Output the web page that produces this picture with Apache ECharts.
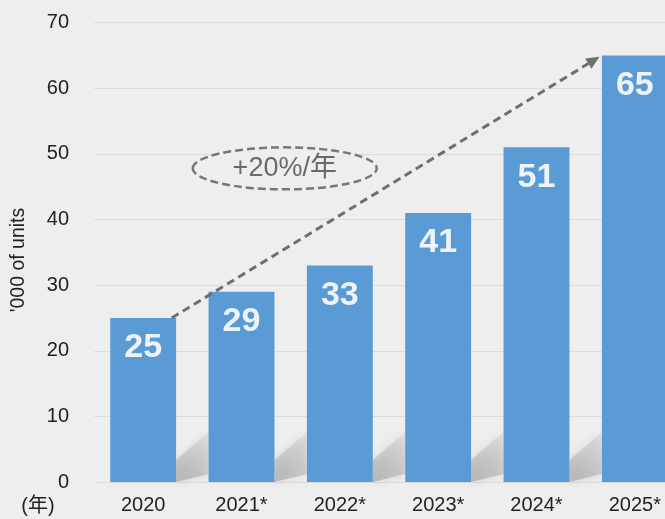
<!DOCTYPE html>
<html><head><meta charset="utf-8">
<script src="https://cdn.jsdelivr.net/npm/echarts@6/dist/echarts.min.js"></script>
<style>html,body{margin:0;padding:0;background:#eeeeee}#c{width:665px;height:519px}</style>
</head><body><div id="c"></div>
<script>
const categories = ['2020','2021*','2022*','2023*','2024*','2025*'];
const values = [25, 29, 33, 41, 51, 65];
const yTicks = [0,10,20,30,40,50,60,70];
const growthLabel = '+20%/年';
const yAxisName = "'000 of units";
const xUnit = '(年)';
// arrow annotation endpoints in data space: [category index (fractional), value]
const arrowStart = [0.29, 25];
const arrowEnd = [4.64, 64.8];
const ellipseCenter = [1.44, 47.8];

const chart = echarts.init(document.getElementById('c'), null, {renderer:'canvas'});
const font = 'Liberation Sans, Arial, sans-serif';
chart.setOption({
  backgroundColor: '#eeeeee',
  animation: false,
  grid: {left: 94, right: -19, top: 22.7, bottom: 37, outerBoundsMode: 'none', containLabel: false},
  xAxis: {
    type: 'category', data: categories,
    axisLine: {show: false}, axisTick: {show: false},
    axisLabel: {color: '#222', fontSize: 20, fontFamily: font, margin: 13}
  },
  yAxis: {
    type: 'value', min: yTicks[0], max: yTicks[yTicks.length-1], interval: 10,
    axisLine: {show: false}, axisTick: {show: false},
    axisLabel: {color: '#222', fontSize: 20, fontFamily: font, margin: 25},
    splitLine: {lineStyle: {color: '#dcdcdc', width: 1}}
  },
  series: [{
    type: 'bar', data: values, barWidth: '67%', z: 3,
    itemStyle: {color: '#5b9bd5'},
    label: {show: true, position: 'insideTop', distance: 13, color: '#eef3f9',
      fontSize: 34, fontWeight: 'bold', fontFamily: font}
  }]
});

const p0 = chart.convertToPixel({xAxisIndex:0, yAxisIndex:0}, [0, 0]);
const p1 = chart.convertToPixel({xAxisIndex:0, yAxisIndex:0}, [1, 0]);
const band = p1[0] - p0[0];
function toPx(p){ const y = chart.convertToPixel({yAxisIndex:0}, p[1]); return [p0[0] + p[0]*band, y]; }

const s = toPx(arrowStart), e = toPx(arrowEnd), c = toPx(ellipseCenter);
const ang = Math.atan2(e[1]-s[1], e[0]-s[0]);
const ah = 13, aw = 6;
const back = [e[0]-ah*Math.cos(ang), e[1]-ah*Math.sin(ang)];
const nx = -Math.sin(ang), ny = Math.cos(ang);

const graphics = [];
// bar shadows in gaps
const barW = band*0.67, gap = band - barW;
for (let i = 0; i < categories.length-1; i++) {
  const R = p0[0] + i*band + barW/2, L = R + gap, b = p0[1];
  graphics.push({type:'polygon', z: 1, silent: true,
    shape:{points:[[R,b],[R,b-22],[L,b-50],[L,b-8]]},
    style:{shadowBlur: 8, shadowColor:'rgba(160,160,160,0.6)',
      fill:{type:'linear',x:0,y:1,x2:1,y2:0,colorStops:[{offset:0,color:'rgba(165,165,165,0.7)'},{offset:1,color:'rgba(200,200,200,0.3)'}]}}});
}
graphics.push({type:'line', z: 10, shape:{x1:s[0],y1:s[1],x2:back[0],y2:back[1]},
  style:{stroke:'#6f6f6f', lineWidth:3, lineDash:[8,5]}});
graphics.push({type:'polygon', z: 10, shape:{points:[[e[0],e[1]],[back[0]+nx*aw,back[1]+ny*aw],[back[0]-nx*aw,back[1]-ny*aw]]},
  style:{fill:'#6f6f6f'}});
graphics.push({type:'ellipse', z: 10, shape:{cx:c[0], cy:c[1], rx:92, ry:21},
  style:{fill:'#eeeeee', stroke:'#777', lineWidth:2.5, lineDash:[8,4]}});
graphics.push({type:'text', z: 11, x:c[0], y:c[1],
  style:{text:growthLabel, fill:'#6a6a6a', fontSize:27, fontFamily:'Liberation Sans, Noto Sans CJK JP, sans-serif', align:'center', verticalAlign:'middle'}});
graphics.push({type:'text', z: 11, x:38, y:p0[1]+24,
  style:{text:xUnit, fill:'#222', fontSize:20, fontFamily:'Liberation Sans, Noto Sans CJK JP, sans-serif', align:'center', verticalAlign:'middle'}});
graphics.push({type:'text', z: 11, x:19, y:260, rotation: Math.PI/2,
  style:{text:yAxisName, fill:'#222', fontSize:19.5, fontFamily:font, align:'center', verticalAlign:'middle'}});
chart.setOption({graphic: graphics});
</script></body></html>
